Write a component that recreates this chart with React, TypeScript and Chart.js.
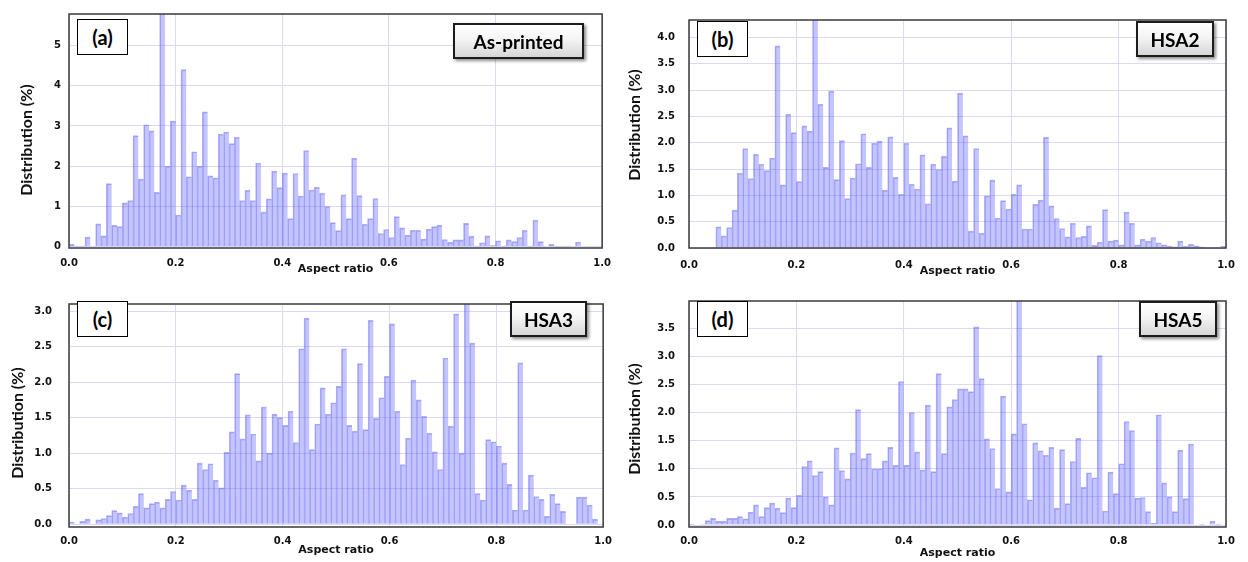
import React, { useEffect, useRef } from "react";
import { Chart, registerables } from "chart.js";

Chart.register(...registerables);

// ---------- data ----------
// histogram bins of width 0.01 on [0, 1]; category = bin centre
const BIN_CENTERS: number[] = Array.from({ length: 100 }, (_, i) => (i + 0.5) / 100);

const X_TICKS = [0, 0.2, 0.4, 0.6, 0.8, 1.0];
const Y_TICKS_A = [0, 1, 2, 3, 4, 5];
const Y_TICKS_B = [0, 0.5, 1.0, 1.5, 2.0, 2.5, 3.0, 3.5, 4.0];
const Y_TICKS_C = [0, 0.5, 1.0, 1.5, 2.0, 2.5, 3.0];
const Y_TICKS_D = [0, 0.5, 1.0, 1.5, 2.0, 2.5, 3.0, 3.5];

const X_TITLE = "Aspect ratio";
const Y_TITLE = "Distribution (%)";

const AS_PRINTED = [
  0.06, 0.02, 0.02, 0.24, 0, 0.57, 0.27, 1.57, 0.53, 0.5,
  1.09, 1.15, 2.76, 1.68, 3.03, 2.88, 1.35, 6.0, 2.0, 3.12,
  0.79, 4.4, 1.74, 2.36, 2.0, 3.35, 1.76, 1.71, 2.8, 2.85,
  2.56, 2.72, 1.15, 1.4, 1.15, 2.08, 0.86, 1.19, 1.88, 1.47,
  1.83, 0.7, 1.82, 1.26, 2.39, 1.41, 1.48, 1.33, 1.0, 0.6,
  0.4, 1.29, 0.7, 2.2, 1.27, 0.56, 0.7, 1.2, 0.33, 0.43,
  0.23, 0.75, 0.47, 0.29, 0.41, 0.41, 0.19, 0.44, 0.5, 0.53,
  0.18, 0.11, 0.17, 0.17, 0.58, 0.26, 0.02, 0.1, 0.27, 0.03,
  0.15, 0.02, 0.17, 0.13, 0.23, 0.41, 0.02, 0.66, 0.13, 0,
  0.06, 0.02, 0.02, 0.02, 0, 0.12, 0, 0, 0, 0,
];

const HSA2 = [
  0, 0, 0, 0, 0, 0.4, 0.23, 0.39, 0.72, 1.42,
  1.89, 1.32, 1.78, 1.59, 1.47, 1.71, 3.84, 1.2, 2.54, 2.19,
  1.26, 2.32, 2.22, 4.45, 2.73, 1.53, 2.98, 1.3, 2.04, 0.94,
  1.33, 1.6, 2.17, 1.53, 1.99, 2.03, 1.1, 2.11, 1.34, 1.02,
  1.99, 1.21, 1.12, 1.77, 0.84, 1.59, 1.49, 1.74, 2.28, 1.27,
  2.94, 2.13, 0.32, 1.89, 0.28, 0.99, 1.29, 0.57, 0.9, 0.74,
  1.02, 1.2, 0.36, 0.36, 0.83, 0.91, 2.1, 0.8, 0.56, 0.37,
  0.21, 0.47, 0.2, 0.22, 0.42, 0.05, 0.11, 0.73, 0.13, 0.15,
  0.06, 0.68, 0.47, 0.06, 0.17, 0.13, 0.2, 0.1, 0.06, 0.03,
  0.02, 0.13, 0.03, 0.07, 0.04, 0.02, 0, 0, 0, 0.03,
];

const HSA3 = [
  0.03, 0, 0.04, 0.07, 0, 0.06, 0.08, 0.12, 0.19, 0.16,
  0.1, 0.15, 0.25, 0.43, 0.23, 0.29, 0.31, 0.23, 0.35, 0.46,
  0.34, 0.55, 0.48, 0.35, 0.86, 0.77, 0.85, 0.62, 0.51, 1.01,
  1.3, 2.12, 1.2, 1.54, 1.27, 0.89, 1.65, 1.0, 1.55, 1.5,
  1.39, 1.59, 1.15, 2.47, 2.9, 1.05, 1.41, 1.92, 1.55, 1.71,
  1.94, 2.47, 1.39, 1.31, 2.26, 1.33, 2.87, 1.49, 1.78, 2.08,
  2.82, 1.59, 0.84, 1.21, 2.03, 1.75, 1.52, 1.28, 1.02, 0.77,
  2.34, 1.38, 2.96, 1.0, 3.2, 2.55, 0.43, 0.34, 1.19, 1.16,
  1.1, 0.86, 0.56, 0.2, 2.27, 0.2, 0.69, 0.39, 0.35, 0.11,
  0.42, 0.29, 0.18, 0, 0, 0.38, 0.38, 0.27, 0.07, 0,
];

const HSA5 = [
  0.02, 0, 0.01, 0.08, 0.12, 0.07, 0.07, 0.12, 0.12, 0.15,
  0.11, 0.23, 0.36, 0.15, 0.31, 0.39, 0.3, 0.22, 0.48, 0.31,
  0.53, 1.04, 1.14, 0.88, 0.95, 0.5, 0.36, 1.37, 0.97, 0.82,
  1.28, 2.05, 1.18, 1.27, 1.0, 1.0, 1.14, 1.38, 1.06, 2.55,
  1.06, 2.0, 1.3, 0.98, 2.13, 0.95, 2.69, 1.27, 2.1, 2.23,
  2.42, 2.42, 2.37, 3.52, 2.6, 1.53, 1.36, 0.65, 2.29, 0.59,
  1.62, 4.1, 1.8, 0.45, 1.46, 1.32, 1.24, 1.38, 0.3, 1.34,
  0.38, 1.13, 1.54, 0.67, 0.93, 0.84, 3.01, 0.25, 0.94, 0.56,
  1.09, 1.84, 1.68, 0.48, 0.49, 0.24, 0.03, 1.96, 0.75, 0.5,
  0.24, 1.33, 0.47, 1.44, 0, 0.02, 0, 0.07, 0.02, 0,
];

// ---------- layout ----------
type Box = { left: number; top: number; w: number; h: number };
type PanelCfg = {
  tag: string;
  name: string;
  values: number[];
  yTicks: number[];
  yMin: number;
  yMax: number;
  decimals: number;
  left: number;
  top: number;
  width: number;
  height: number;
  padTop: number;
  padRight: number;
  yAxisW: number;
  xAxisH: number;
  yTickPad: number;
  xTickPad: number;
  xTitleOffset: number;
  yTitleX: number;
  yTitleY: number;
  tagBox: Box;
  nameBox: Box;
};

const PANELS: PanelCfg[] = [
  {
    tag: "(a)", name: "As-printed", values: AS_PRINTED, yTicks: Y_TICKS_A,
    yMin: -0.03, yMax: 5.78, decimals: 0,
    left: 0, top: 0, width: 620, height: 281, padTop: 13, padRight: 14,
    yAxisW: 69, xAxisH: 33, yTickPad: 8, xTickPad: 9, xTitleOffset: 21,
    yTitleX: 27, yTitleY: 140,
    tagBox: { left: 77, top: 19, w: 51, h: 36 },
    nameBox: { left: 453, top: 23, w: 131, h: 36 },
  },
  {
    tag: "(b)", name: "HSA2", values: HSA2, yTicks: Y_TICKS_B,
    yMin: 0, yMax: 4.33, decimals: 1,
    left: 624, top: 0, width: 624, height: 281, padTop: 13, padRight: 22,
    yAxisW: 65, xAxisH: 33, yTickPad: 14, xTickPad: 11, xTitleOffset: 23.5,
    yTitleX: 11, yTitleY: 125,
    tagBox: { left: 697, top: 21, w: 51, h: 36 },
    nameBox: { left: 1136, top: 21, w: 78, h: 36 },
  },
  {
    tag: "(c)", name: "HSA3", values: HSA3, yTicks: Y_TICKS_C,
    yMin: -0.04, yMax: 3.1, decimals: 1,
    left: 0, top: 281, width: 620, height: 281, padTop: 9, padRight: 15,
    yAxisW: 69, xAxisH: 35, yTickPad: 17, xTickPad: 8, xTitleOffset: 23,
    yTitleX: 18, yTitleY: 142,
    tagBox: { left: 77, top: 301, w: 51, h: 36 },
    nameBox: { left: 510, top: 301, w: 77, h: 36 },
  },
  {
    tag: "(d)", name: "HSA5", values: HSA5, yTicks: Y_TICKS_D,
    yMin: -0.034, yMax: 3.98, decimals: 1,
    left: 624, top: 281, width: 624, height: 281, padTop: 10, padRight: 22,
    yAxisW: 65, xAxisH: 35, yTickPad: 14, xTickPad: 8, xTitleOffset: 26,
    yTitleX: 11, yTitleY: 138,
    tagBox: { left: 697, top: 301, w: 51, h: 36 },
    nameBox: { left: 1139, top: 301, w: 78, h: 36 },
  },
];

const GRID = "#d9d9fa";
const TICK_FONT = { family: "'DejaVu Sans', sans-serif", weight: "bold" as const, size: 10 };

const frameTitlesPlugin = {
  id: "frameTitles",
  afterDraw(chart: any, _args: any, opts: any) {
    const { ctx, chartArea: ca } = chart;
    ctx.save();
    ctx.strokeStyle = "#3a3a3a";
    ctx.lineWidth = 1.5;
    ctx.strokeRect(ca.left, ca.top, ca.right - ca.left, ca.bottom - ca.top);
    ctx.fillStyle = "#111";
    ctx.textAlign = "center";
    ctx.textBaseline = "middle";
    ctx.font = "bold 11px 'DejaVu Sans', sans-serif";
    ctx.fillText(opts.xTitle, (ca.left + ca.right) / 2, ca.bottom + opts.xTitleOffset);
    ctx.translate(opts.yTitleX, opts.yTitleY);
    ctx.rotate(-Math.PI / 2);
    ctx.font = "bold 16px Lato, 'Open Sans', sans-serif";
    ctx.fillText(opts.yTitle, 0, 0);
    ctx.restore();
  },
};

function Panel({ p }: { p: PanelCfg }) {
  const ref = useRef<HTMLCanvasElement>(null);
  useEffect(() => {
    const chart = new Chart(ref.current as HTMLCanvasElement, {
      type: "bar",
      data: {
        labels: BIN_CENTERS,
        datasets: [
          {
            data: p.values,
            backgroundColor: "rgba(100,100,255,0.38)",
            borderColor: "rgba(80,80,240,0.45)",
            borderWidth: { left: 1, top: 1, right: 0, bottom: 0 },
            borderSkipped: false,
            barPercentage: 1,
            categoryPercentage: 1,
          },
        ],
      },
      options: {
        responsive: false,
        maintainAspectRatio: false,
        animation: false,
        events: [],
        layout: { padding: { top: p.padTop, right: p.padRight, left: 0, bottom: 0 } },
        plugins: {
          legend: { display: false },
          tooltip: { enabled: false },
          frameTitles: {
            xTitle: X_TITLE,
            yTitle: Y_TITLE,
            xTitleOffset: p.xTitleOffset,
            yTitleX: p.yTitleX,
            yTitleY: p.yTitleY,
          },
        } as any,
        scales: {
          x: {
            type: "linear",
            min: 0,
            max: 1,
            offset: false,
            grid: { color: GRID, lineWidth: 1, drawTicks: false, offset: false },
            border: { display: false },
            ticks: {
              font: TICK_FONT,
              color: "#111",
              padding: p.xTickPad,
              maxRotation: 0,
              autoSkip: false,
              callback: (v: any) => Number(v).toFixed(1),
            },
            afterBuildTicks: (s: any) => {
              s.ticks = X_TICKS.map((v) => ({ value: v }));
            },
            afterFit: (s: any) => {
              s.height = p.xAxisH;
            },
          },
          y: {
            type: "linear",
            min: p.yMin,
            max: p.yMax,
            grid: { color: GRID, lineWidth: 1, drawTicks: false },
            border: { display: false },
            ticks: {
              font: TICK_FONT,
              color: "#111",
              padding: p.yTickPad,
              autoSkip: false,
              callback: (v: any) => Number(v).toFixed(p.decimals),
            },
            afterBuildTicks: (s: any) => {
              s.ticks = p.yTicks.map((v) => ({ value: v }));
            },
            afterFit: (s: any) => {
              s.width = p.yAxisW;
            },
          },
        },
      } as any,
      plugins: [frameTitlesPlugin],
    });
    return () => chart.destroy();
  }, [p]);

  const tagStyle: React.CSSProperties = {
    position: "absolute",
    left: p.tagBox.left,
    top: p.tagBox.top,
    width: p.tagBox.w,
    height: p.tagBox.h,
    boxSizing: "border-box",
    border: "1px solid #000",
    background: "#fff",
    display: "flex",
    alignItems: "center",
    justifyContent: "center",
    font: "bold 20px Lato, 'Open Sans', sans-serif",
    color: "#000",
  };
  const nameStyle: React.CSSProperties = {
    position: "absolute",
    left: p.nameBox.left,
    top: p.nameBox.top,
    width: p.nameBox.w,
    height: p.nameBox.h,
    boxSizing: "border-box",
    border: "2px solid #1c1c1c",
    background: "linear-gradient(#ffffff 0%, #f4f4f4 45%, #d6d6d6 100%)",
    boxShadow: "2px 2px 3px rgba(0,0,0,0.45)",
    display: "flex",
    alignItems: "center",
    justifyContent: "center",
    font: "bold 19px Lato, 'Open Sans', sans-serif",
    color: "#000",
  };

  return (
    <>
      <canvas
        ref={ref}
        width={p.width}
        height={p.height}
        style={{ position: "absolute", left: p.left, top: p.top, width: p.width, height: p.height }}
      />
      <div style={tagStyle}>{p.tag}</div>
      <div style={nameStyle}>{p.name}</div>
    </>
  );
}

export default function App() {
  return (
    <div style={{ position: "absolute", left: 0, top: 0, width: 1248, height: 562, background: "#fff" }}>
      {PANELS.map((p) => (
        <Panel key={p.tag} p={p} />
      ))}
    </div>
  );
}
